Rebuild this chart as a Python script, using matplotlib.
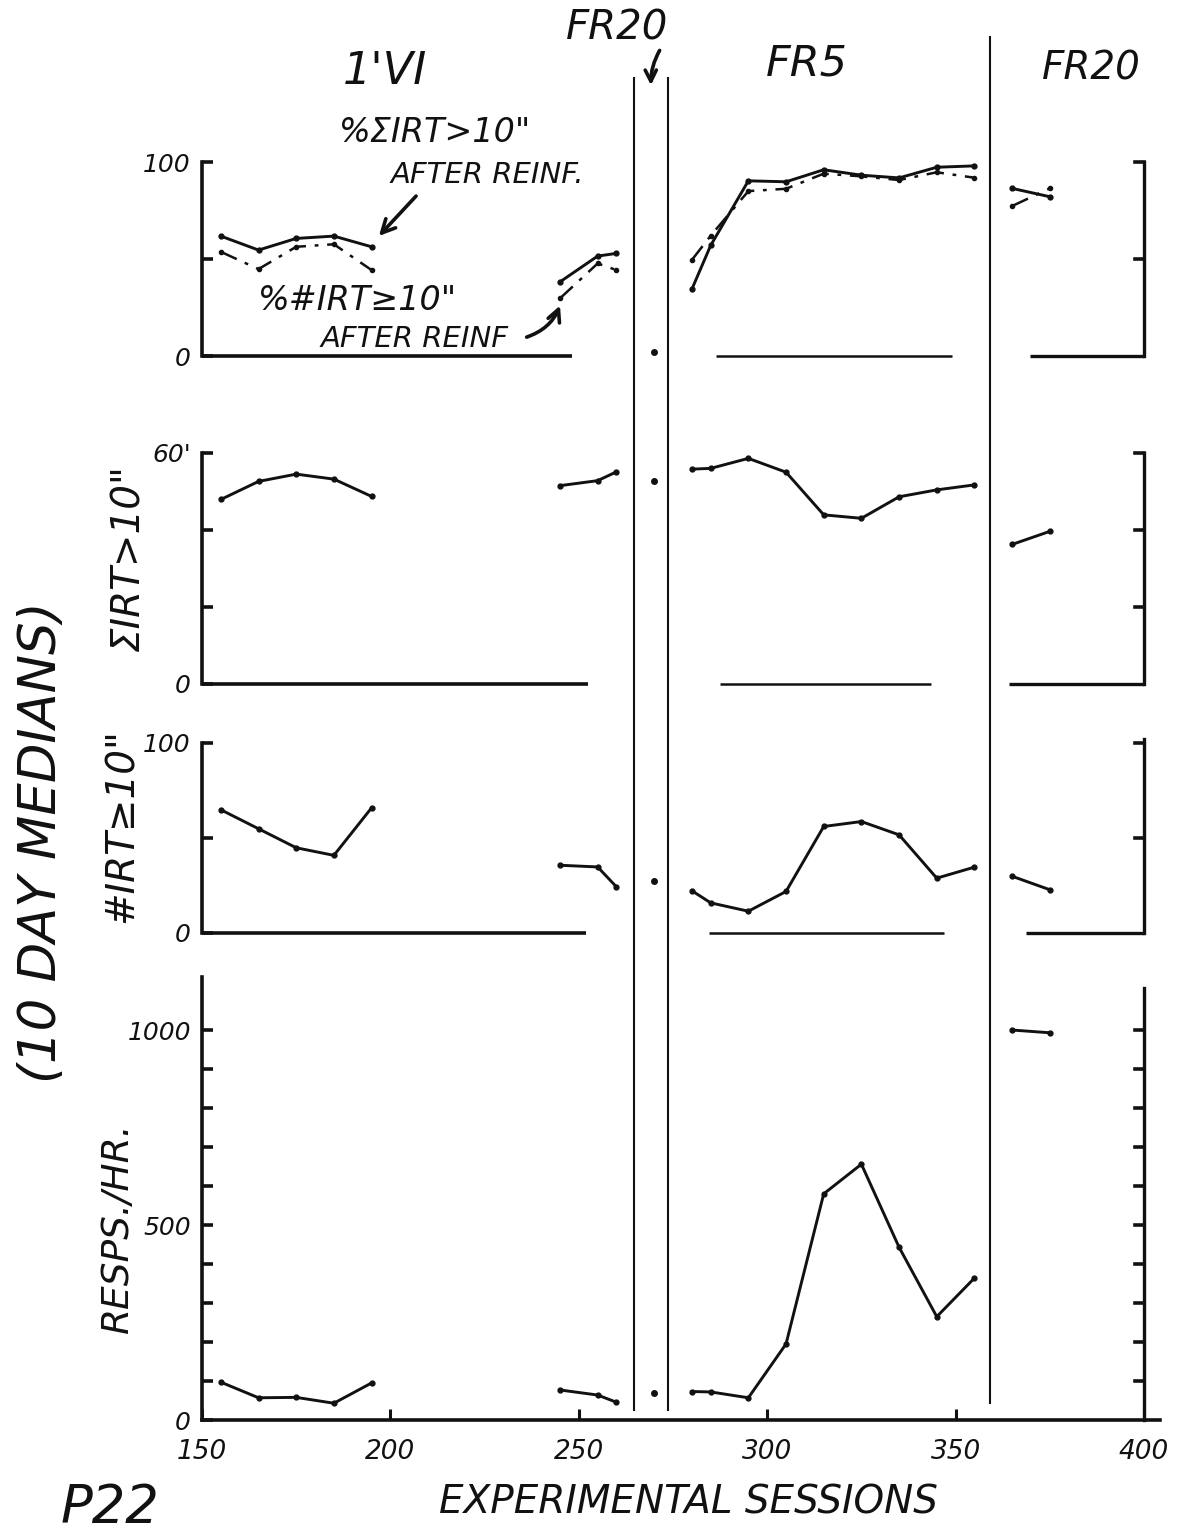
import matplotlib
matplotlib.use("Agg")
import matplotlib.pyplot as plt
from matplotlib.patches import FancyArrowPatch

# ---------------------------------------------------------------- data -------
# session midpoints (10 day medians) for each condition
vi_x = [155, 165, 175, 185, 195]
vi2_x = [245, 255, 260]
fr20a_x = [270]
fr5_x = [280, 285, 295, 305, 315, 325, 335, 345, 355]
fr20b_x = [365, 375]

# % sum IRT > 10" after reinf. (solid) and % # IRT >= 10" after reinf. (dash-dot)
pct_sum_vi = [61.8, 54.6, 60.6, 61.8, 56.3]
pct_num_vi = [53.7, 44.8, 56.3, 57.6, 44.3]
pct_sum_vi2 = [38.2, 51.5, 52.9]
pct_num_vi2 = [29.7, 47.7, 44.3]
pct_fr20a = [2]
pct_sum_fr5 = [34.4, 57, 90.3, 89.8, 96.0, 93.2, 91.8, 97.3, 98.0]
pct_num_fr5 = [49.5, 62, 85.0, 86.2, 94.0, 92.6, 90.7, 94.7, 91.9]
pct_sum_fr20b = [86.4, 82.1]
pct_num_fr20b = [77.3, 86.4]

# sum IRT > 10" (minutes)
sum_vi = [47.9, 52.6, 54.5, 53.2, 48.7]
sum_vi2 = [51.5, 52.8, 55.1]
sum_fr20a = [52.8]
sum_fr5 = [55.8, 56.0, 58.6, 55.0, 43.9, 43.0, 48.6, 50.4, 51.7]
sum_fr20b = [36.2, 39.6]

# number of IRT >= 10"
num_vi = [64.6, 54.6, 44.6, 40.6, 65.6]
num_vi2 = [35.4, 34.5, 24.0]
num_fr20a = [27.0]
num_fr5 = [22.0, 15.6, 11.2, 21.6, 55.8, 58.4, 51.4, 28.6, 34.4]
num_fr20b = [29.6, 22.5]

# responses per hour
rate_vi = [97, 57, 58, 43, 95]
rate_vi2 = [77, 64, 45.5]
rate_fr20a = [68]
rate_fr5 = [73, 72, 57, 195, 580, 656, 443, 265, 364]
rate_fr20b = [1000, 993]

x_ticks = [150, 200, 250, 300, 350, 400]
x_tick_labels = ["150", "200", "250", "300", "350", "400"]

# ---------------------------------------------------------------- layout -----
W, H = 1184, 1538
X0, PPS = 202, 3.768          # pixel of session 150, pixels per session
INK = "#111111"
FONT = dict(family="DejaVu Sans", style="italic", color=INK)

plt.rcParams["font.family"] = ["DejaVu Sans"]


def fx(px):
    return px / W


def fy(py):
    return 1 - py / H


def sess(px):
    return 150 + (px - X0) / PPS


fig = plt.figure(figsize=(W / 100, H / 100), dpi=100)
fig.patch.set_facecolor("white")


def make_panel(y_bottom, y_top, ylim, yticks, ylabels, left_top, right_bottom_top,
               zero_segments, right_ticks):
    ax = fig.add_axes([fx(X0), fy(y_bottom), (400 - 150) * PPS / W, (y_bottom - y_top) / H])
    ax.set_xlim(150, 400)
    ax.set_ylim(*ylim)
    ax.patch.set_alpha(0)
    for s in ["top", "bottom", "right"]:
        ax.spines[s].set_visible(False)
    ax.spines["left"].set_linewidth(2.6)
    ax.spines["left"].set_color(INK)
    ax.spines["left"].set_bounds(0, left_top)
    ax.set_yticks(yticks, ylabels)
    ax.tick_params(axis="y", direction="in", length=8, width=2.6, color=INK,
                   labelsize=18, pad=8, labelcolor=INK)
    for t in ax.get_yticklabels():
        t.set_fontstyle("italic")
    ax.set_xticks([])
    # right-hand axis of the last FR20 block
    rb, rt = right_bottom_top
    ax.plot([400, 400], [rb, rt], color=INK, lw=2.4, clip_on=False)
    for v in right_ticks:
        ax.plot([400 - 2.4, 400], [v, v], color=INK, lw=2.6, clip_on=False)
    for (a, b), lw in zero_segments:
        ax.plot([a, b], [0, 0], color=INK, lw=lw, clip_on=False, solid_capstyle="butt")
    return ax


line_kw = dict(color=INK, lw=2.1, marker="o", ms=3.5, clip_on=False)
dash_kw = dict(color=INK, lw=1.8, marker="o", ms=3, clip_on=False,
               linestyle=(0, (7, 3.5, 1.5, 3.5)))

# panel 1: percent after reinforcement
ax1 = make_panel(356, 162, (0, 100), [0, 50, 100], ["0", "", "100"], 100, (0, 100),
                 [((150, sess(572)), 2.6), ((sess(716), sess(952)), 1.8),
                  ((sess(1030), 400), 2.4)], [50, 100])
for xs, ys in [(vi_x, pct_sum_vi), (vi2_x, pct_sum_vi2), (fr5_x, pct_sum_fr5),
               (fr20b_x, pct_sum_fr20b)]:
    ax1.plot(xs, ys, **line_kw)
for xs, ys in [(vi_x, pct_num_vi), (vi2_x, pct_num_vi2), (fr5_x, pct_num_fr5),
               (fr20b_x, pct_num_fr20b)]:
    ax1.plot(xs, ys, **dash_kw)
ax1.plot(fr20a_x, pct_fr20a, "o", color=INK, ms=4, clip_on=False)

# panel 2: sum IRT > 10"
ax2 = make_panel(683.5, 453, (0, 60), [0, 20, 40, 60], ["0", "", "", "60'"], 60, (0, 60),
                 [((150, sess(588)), 2.6), ((sess(720), sess(931)), 1.8),
                  ((sess(1009), 400), 2.4)], [20, 40, 60])
for xs, ys in [(vi_x, sum_vi), (vi2_x, sum_vi2), (fr5_x, sum_fr5), (fr20b_x, sum_fr20b)]:
    ax2.plot(xs, ys, **line_kw)
ax2.plot(fr20a_x, sum_fr20a, "o", color=INK, ms=4, clip_on=False)

# panel 3: # IRT >= 10"
ax3 = make_panel(932.5, 742.5, (0, 100), [0, 50, 100], ["0", "", "100"], 100, (0, 102),
                 [((150, sess(586)), 2.6), ((sess(709), sess(944)), 1.8),
                  ((sess(1026), 400), 2.4)], [50, 100])
for xs, ys in [(vi_x, num_vi), (vi2_x, num_vi2), (fr5_x, num_fr5), (fr20b_x, num_fr20b)]:
    ax3.plot(xs, ys, **line_kw)
ax3.plot(fr20a_x, num_fr20a, "o", color=INK, ms=4, clip_on=False)

# panel 4: responses per hour
ax4 = make_panel(1420, 977, (0, 1136), list(range(0, 1001, 100)),
                 ["0", "", "", "", "", "500", "", "", "", "", "1000"], 1136, (0, 1108),
                 [], list(range(100, 1001, 100)))
ax4.plot([150, sess(1160)], [0, 0], color=INK, lw=2.6, clip_on=False)
ax4.set_xticks(x_ticks, x_tick_labels)
ax4.tick_params(axis="x", direction="in", length=8, width=2.2, color=INK,
                labelsize=19, pad=14, labelcolor=INK)
for t in ax4.get_xticklabels():
    t.set_fontstyle("italic")
for xs, ys in [(vi_x, rate_vi), (vi2_x, rate_vi2), (fr5_x, rate_fr5), (fr20b_x, rate_fr20b)]:
    ax4.plot(xs, ys, **line_kw)
ax4.plot(fr20a_x, rate_fr20a, "o", color=INK, ms=4, clip_on=False)

# ---------------------------------------------------------------- overlay ----
ov = fig.add_axes([0, 0, 1, 1])
ov.set_xlim(0, W)
ov.set_ylim(H, 0)
ov.axis("off")
ov.patch.set_alpha(0)

# condition separators
for x, y0, y1 in [(634, 78, 1410), (668, 78, 1410), (990, 37, 1403)]:
    ov.plot([x, x], [y0, y1], color=INK, lw=1.5)

# condition headings
ov.text(385, 72, "1'VI", fontsize=32, ha="center", va="center", **FONT)
ov.text(617, 28, "FR20", fontsize=29, ha="center", va="center", **FONT)
ov.text(807, 63, "FR5", fontsize=31, ha="center", va="center", **FONT)
ov.text(1091, 68, "FR20", fontsize=28, ha="center", va="center", **FONT)
ov.add_patch(FancyArrowPatch((661, 48), (651, 88), arrowstyle="->", mutation_scale=20,
                             lw=2.6, color=INK, connectionstyle="arc3,rad=0.15"))

# annotations in top panel
ov.text(435, 132, '%ΣIRT>10"', fontsize=24, ha="center", va="center", **FONT)
ov.text(487, 175, "AFTER REINF.", fontsize=21, ha="center", va="center", **FONT)
ov.add_patch(FancyArrowPatch((418, 194), (377, 238), arrowstyle="->", mutation_scale=24,
                             lw=2.6, color=INK))
ov.text(358, 300, '%#IRT≥10"', fontsize=24, ha="center", va="center", **FONT)
ov.text(415, 339, "AFTER REINF", fontsize=21, ha="center", va="center", **FONT)
ov.add_patch(FancyArrowPatch((524, 338), (561, 303), arrowstyle="->", mutation_scale=22,
                             lw=2.6, color=INK, connectionstyle="arc3,rad=0.25"))

# axis titles
ov.text(128, 558, 'ΣIRT>10"', fontsize=28, rotation=90, ha="center", va="center", **FONT)
ov.text(122, 826, '#IRT≥10"', fontsize=28, rotation=90, ha="center", va="center", **FONT)
ov.text(118, 1228, "RESPS./HR.", fontsize=27, rotation=90, ha="center", va="center", **FONT)
ov.text(42, 842, "(10 DAY MEDIANS)", fontsize=37, rotation=90, ha="center", va="center",
        **FONT)
ov.text(688, 1502, "EXPERIMENTAL SESSIONS", fontsize=28, ha="center", va="center", **FONT)
ov.text(110, 1508, "P22", fontsize=38, ha="center", va="center", **FONT)

fig.savefig("out.png", dpi=100, facecolor="white")
